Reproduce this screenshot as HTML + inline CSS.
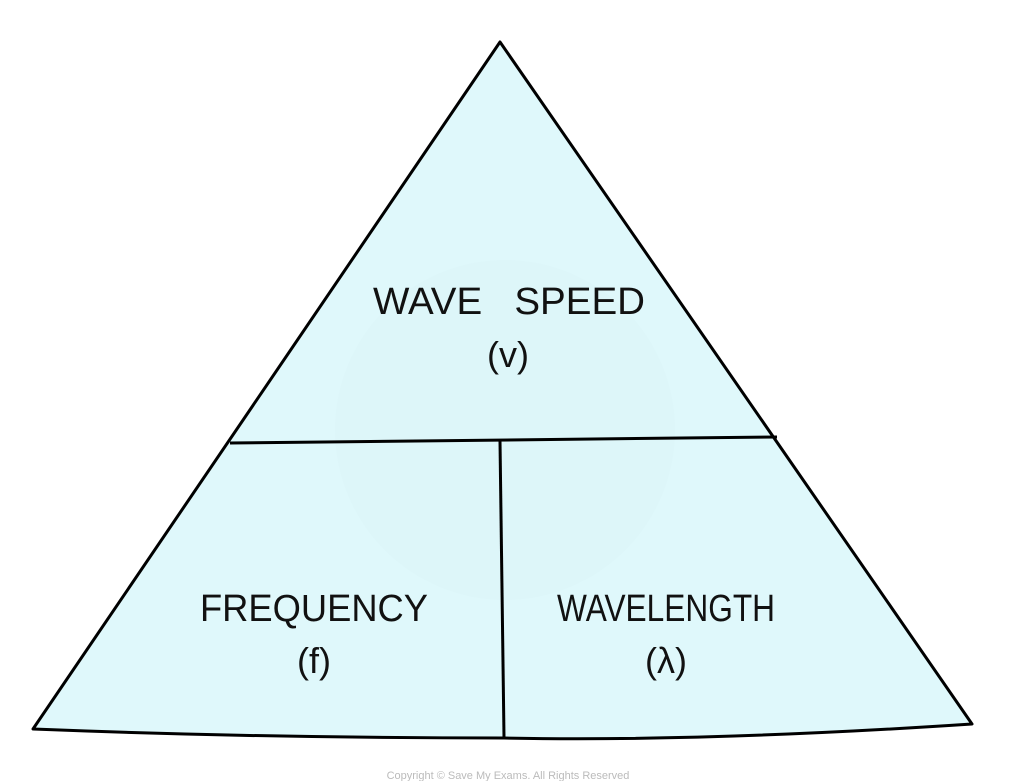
<!DOCTYPE html>
<html><head><meta charset="utf-8"><style>
html,body{margin:0;padding:0;background:#fff;}
svg{display:block}
text{font-family:"Liberation Sans","DejaVu Sans",sans-serif;fill:#111;}
</style></head><body>
<svg width="1017" height="781" viewBox="0 0 1017 781" xmlns="http://www.w3.org/2000/svg">
<path d="M500,42 L972,724 Q700,742 504,738 Q260,738 33,729 Z" fill="#dff8fb" stroke="#000" stroke-width="3" stroke-linejoin="round"/>
<circle cx="505" cy="430" r="170" fill="#d6f1f4" opacity="0.2"/>
<path d="M230,443 L777,437" stroke="#000" stroke-width="3"/>
<path d="M500,441 L504,737" stroke="#000" stroke-width="3"/>
<text x="373" y="314" font-size="38" textLength="272" lengthAdjust="spacingAndGlyphs">WAVE&#160;&#160;&#160;SPEED</text>
<text x="508" y="367" font-size="36" text-anchor="middle">(v)</text>
<text x="200" y="621" font-size="38" textLength="228" lengthAdjust="spacingAndGlyphs">FREQUENCY</text>
<text x="314" y="673" font-size="36" text-anchor="middle">(f)</text>
<text x="557" y="621" font-size="38" textLength="218" lengthAdjust="spacingAndGlyphs">WAVELENGTH</text>
<text x="666" y="673" font-size="36" text-anchor="middle">(λ)</text>
<text x="508" y="779" font-size="11" text-anchor="middle" style="fill:#bbb">Copyright © Save My Exams. All Rights Reserved</text>
</svg>
</body></html>
